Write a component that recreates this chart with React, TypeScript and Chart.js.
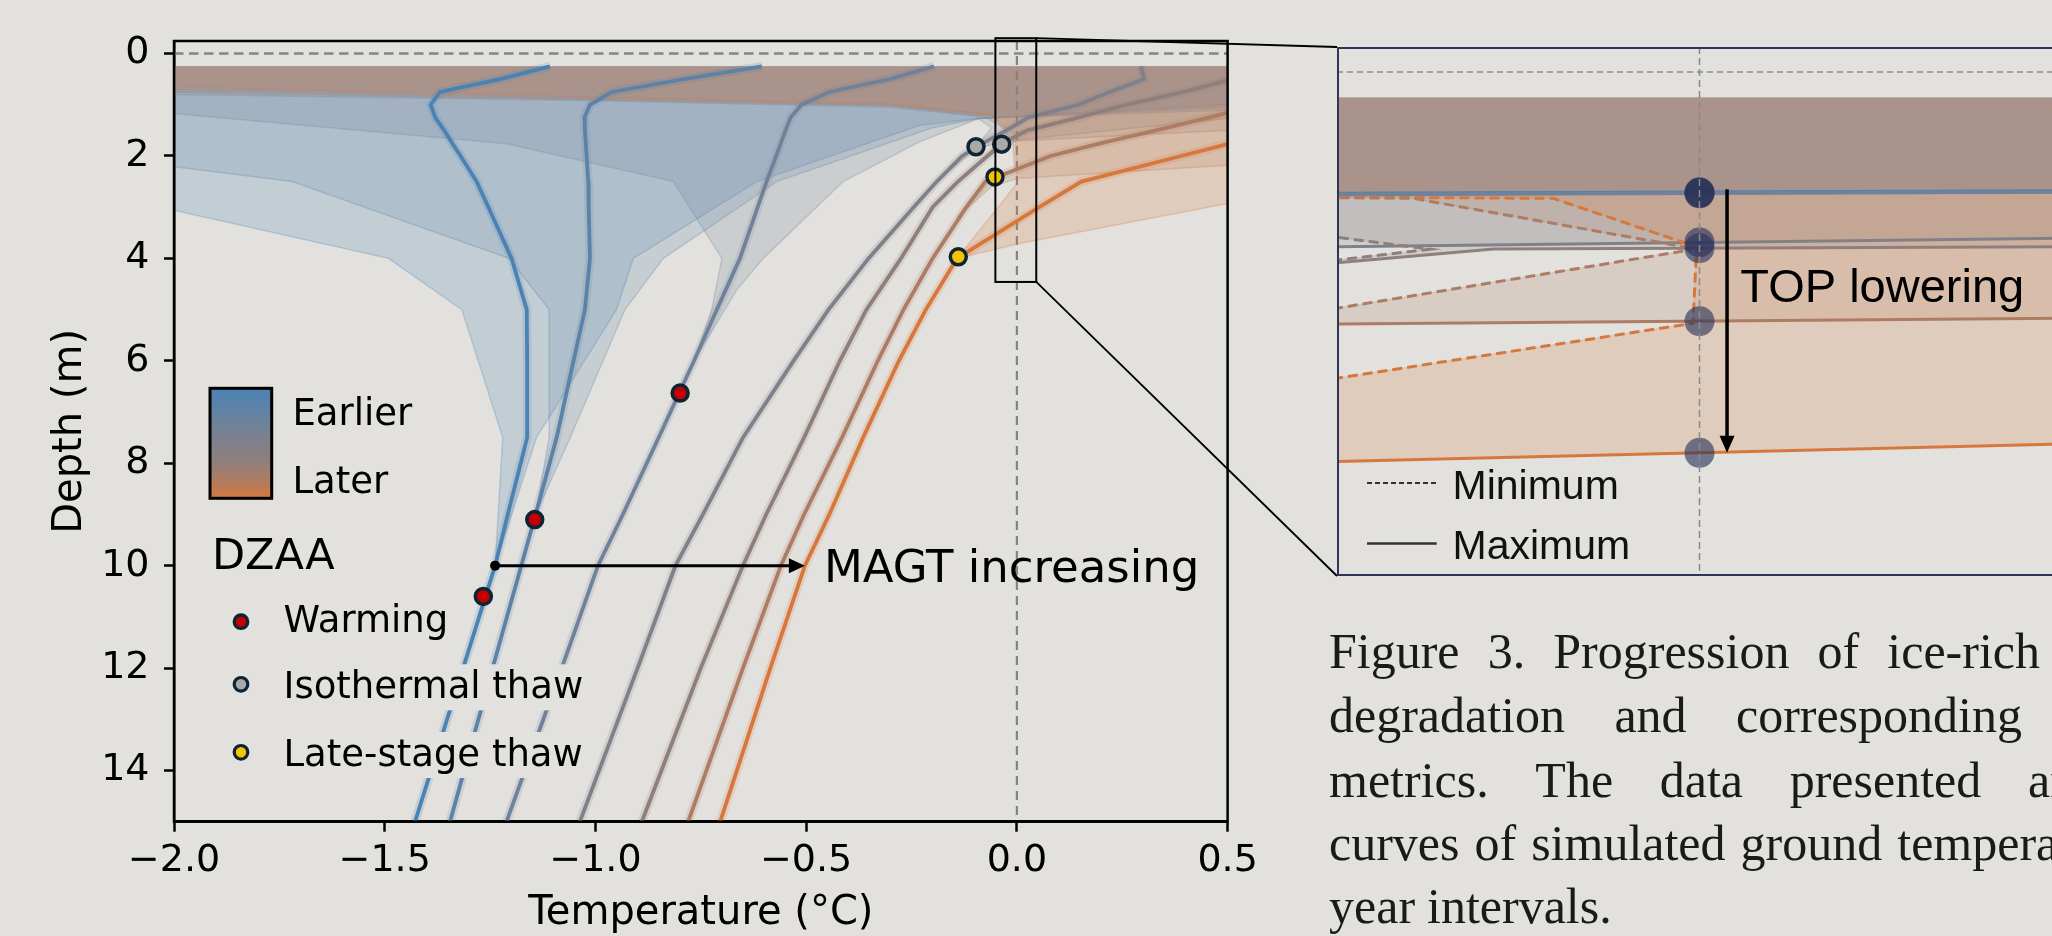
import React, { useEffect, useRef } from "react";
import { Chart, registerables } from "chart.js";

Chart.register(...registerables);

const BG = "#e2e1dd";
const SANS = "'DejaVu Sans', sans-serif";
const ARIAL = "'Liberation Sans', Arial, sans-serif";
const SERIF = "'Liberation Serif', 'Times New Roman', serif";

// ---------------- main panel data ----------------
const xTicks = [-2.0, -1.5, -1.0, -0.5, 0.0, 0.5];
const yTicks = [0, 2, 4, 6, 8, 10, 12, 14];

// depth nodes (m)
const depths = [0.25, 0.5, 0.75, 1.0, 1.25, 1.5, 1.75, 2.0, 2.5, 3.0, 4.0, 5.0, 6.0, 7.5, 9.0, 10.0, 12.0, 15.0];

// mean ground temperature profiles (°C), earlier -> later
const year1 = [-1.108, -1.226, -1.369, -1.391, -1.38, -1.359, -1.34, -1.32, -1.282, -1.254, -1.199, -1.163, -1.162, -1.162, -1.208, -1.238, -1.314, -1.428];
const year2 = [-0.605, -0.79, -0.961, -1.013, -1.026, -1.025, -1.023, -1.021, -1.017, -1.016, -1.013, -1.025, -1.052, -1.092, -1.142, -1.176, -1.244, -1.345];
const year3 = [-0.197, -0.301, -0.446, -0.511, -0.537, -0.549, -0.56, -0.571, -0.594, -0.615, -0.657, -0.712, -0.766, -0.85, -0.935, -0.994, -1.08, -1.211];
const year4 = [0.294, 0.302, 0.22, 0.146, 0.027, -0.025, -0.08, -0.13, -0.19, -0.245, -0.352, -0.447, -0.53, -0.65, -0.745, -0.81, -0.9, -1.037];
const year5 = [0.63, 0.51, 0.396, 0.26, 0.145, 0.025, -0.033, -0.07, -0.14, -0.2, -0.275, -0.357, -0.42, -0.505, -0.595, -0.65, -0.75, -0.89];
const year6 = [0.95, 0.82, 0.7, 0.57, 0.455, 0.33, 0.2, 0.08, -0.075, -0.12, -0.2, -0.269, -0.33, -0.415, -0.505, -0.56, -0.65, -0.78];
const year7 = [1.21, 1.09, 0.97, 0.85, 0.74, 0.625, 0.508, 0.39, 0.153, 0.053, -0.142, -0.216, -0.28, -0.365, -0.445, -0.503, -0.585, -0.704];

const yearColors = ["#4a82b4", "#5c82a8", "#70829a", "#80808a", "#8f7f7c", "#ad7c62", "#d6783e"];

// annual minimum envelope (T, depth), top -> bottom
const env1MinT = [-6, -2.0, -1.491, -1.317, -1.22, -1.238];
const env1MinD = [0.25, 3.06, 4.0, 5.0, 7.5, 10.0];
const env2MinT = [-6, -2.0, -1.72, -1.205, -1.11, -1.11, -1.142];
const env2MinD = [0.25, 2.21, 2.5, 4.0, 5.0, 7.5, 9.0];
const env3MinT = [-6, -2.0, -1.21, -0.815, -0.7, -0.724, -0.766];
const env3MinD = [0.25, 1.17, 1.76, 2.5, 4.0, 5.0, 6.0];
const env4MinT = [-6, -2.0, -1.0, -0.3, -0.1, -0.06, -0.097, -0.19];
const env4MinD = [0.25, 0.8, 0.92, 1.05, 1.22, 1.45, 1.82, 2.5];
const env5MinT = [-6, -2.0, -1.0, -0.3, -0.08, -0.02, -0.045, -0.11];
const env5MinD = [0.25, 0.75, 0.9, 1.02, 1.22, 1.5, 1.77, 2.28];
const env6MinT = [-6, -2.0, -1.0, -0.3, -0.06, -0.01, -0.005, -0.06, -0.142];
const env6MinD = [0.25, 0.7, 0.88, 1.0, 1.2, 1.7, 2.3, 2.45, 3.19];
const env7MinT = [-6, -2.0, -1.0, -0.3, -0.06, -0.003, 0.0, -0.139, -0.216];
const env7MinD = [0.25, 0.65, 0.85, 0.98, 1.2, 1.6, 2.54, 3.97, 5.0];

// annual maximum envelope (T, depth), top -> bottom
const env1MaxT = [6, 0.5, -0.09, -0.23, -0.617, -0.91, -0.95, -1.14, -1.238];
const env1MaxD = [0.25, 1.0, 1.27, 1.4, 2.5, 4.0, 5.0, 7.5, 10.0];
const env2MaxT = [6, 0.5, -0.09, -0.2, -0.57, -0.839, -0.93, -1.06, -1.142];
const env2MaxD = [0.25, 1.05, 1.27, 1.45, 2.5, 4.0, 5.0, 7.5, 9.0];
const env3MaxT = [6, 0.5, -0.09, -0.23, -0.412, -0.602, -0.665, -0.766];
const env3MaxD = [0.25, 1.1, 1.27, 1.72, 2.5, 4.0, 4.62, 6.0];
const env4MaxT = [6, 0.5, 0.0, -0.097, -0.19];
const env4MaxD = [0.25, 1.27, 1.69, 1.85, 2.5];
const env5MaxT = [6, 0.5, 0.0, -0.03, -0.11];
const env5MaxD = [0.25, 1.5, 1.71, 1.79, 2.28];
const env6MaxT = [6, 0.5, 0.0, -0.06, -0.142];
const env6MaxD = [0.25, 2.18, 2.44, 2.6, 3.19];
const env7MaxT = [6, 0.5, 0.0, -0.139, -0.216];
const env7MaxD = [0.25, 2.93, 3.72, 4.0, 5.0];

// DZAA markers
const warmingT = [-1.266, -1.144, -0.799];
const warmingD = [10.6, 9.1, 6.63];
const isoT = [-0.097, -0.036];
const isoD = [1.82, 1.77];
const lateT = [-0.052, -0.139];
const lateD = [2.41, 3.97];

const magtDepth = 10;

// zoom box on the main panel
const boxT = [-0.051, 0.046];
const boxD = [-0.3, 4.46];

// ---------------- inset data ----------------
const insetXlim = [-0.05, 0.05];
const insetYlim = [-0.244, 4.922];

// maximum (solid) lines
const inMax1T = [-0.06, 0.06], inMax1D = [1.19, 1.16];
const inMax2T = [-0.06, 0.06], inMax2D = [1.195, 1.165];
const inMax3T = [-0.06, 0.06], inMax3D = [1.2, 1.17];
const inMax4T = [-0.06, 0.06], inMax4D = [1.714, 1.615];
const inMax5T = [-0.06, -0.0284, 0.06], inMax5D = [1.926, 1.729, 1.704];
const inMax6T = [-0.06, 0.06], inMax6D = [2.467, 2.4];
const inMax7T = [-0.06, 0.06], inMax7D = [3.822, 3.616];

// minimum (dashed) lines
const inMin5T = [-0.06, -0.0372, -0.06], inMin5D = [1.523, 1.731, 1.919];
const inMin6T = [-0.06, -0.0395, -0.0022, -0.0015, -0.06], inMin6D = [1.22, 1.234, 1.706, 1.74, 2.424];
const inMin7T = [-0.06, -0.0202, -0.002, -0.0004, -0.0009, -0.06], inMin7D = [1.218, 1.234, 1.67, 1.72, 2.454, 3.1];

// envelope regions inside the inset
const inEnv1T = [-0.06, -0.065, -0.06, 0.06, 0.06], inEnv1D = [0.25, 0.7, 1.19, 1.16, 0.25];
const inEnv2T = [-0.06, -0.065, -0.06, 0.06, 0.06], inEnv2D = [0.25, 0.7, 1.195, 1.165, 0.25];
const inEnv3T = [-0.06, -0.065, -0.06, 0.06, 0.06], inEnv3D = [0.25, 0.7, 1.2, 1.17, 0.25];
const inEnv4T = [-0.06, -0.065, -0.06, 0.06, 0.06], inEnv4D = [0.25, 0.7, 1.714, 1.615, 0.25];
const inEnv5T = [-0.06, -0.065, -0.06, -0.0372, -0.06, -0.06, -0.0284, 0.06, 0.06];
const inEnv5D = [0.25, 0.7, 1.523, 1.731, 1.919, 1.926, 1.729, 1.704, 0.25];
const inEnv6T = [-0.06, -0.065, -0.06, -0.0395, -0.0022, -0.0015, -0.06, -0.06, 0.06, 0.06];
const inEnv6D = [0.25, 0.7, 1.22, 1.234, 1.706, 1.74, 2.424, 2.467, 2.4, 0.25];
const inEnv7T = [-0.06, -0.065, -0.06, -0.0202, -0.002, -0.0004, -0.0009, -0.06, -0.06, 0.06, 0.06];
const inEnv7D = [0.25, 0.7, 1.218, 1.234, 1.67, 1.72, 2.454, 3.1, 3.822, 3.616, 0.25];

const topArrowT = 0.0038;

// caption
const captionLines = [
  { words: ["Figure", "3.", "Progression", "of", "ice-rich"], width: 711, justify: true },
  { words: ["degradation", "and", "corresponding"], width: 693, justify: true },
  { words: ["metrics.", "The", "data", "presented", "are"], width: 760, justify: true },
  { words: ["curves", "of", "simulated", "ground", "temperature"], width: 807, justify: true },
  { words: ["year", "intervals."], width: 0, justify: false },
];
const captionBaselines = [668.3, 731.7, 796.7, 860, 923.3];

// ---------------- helpers ----------------
const years = [year1, year2, year3, year4, year5, year6, year7];
const envMins = [[env1MinT, env1MinD], [env2MinT, env2MinD], [env3MinT, env3MinD], [env4MinT, env4MinD], [env5MinT, env5MinD], [env6MinT, env6MinD], [env7MinT, env7MinD]];
const envMaxs = [[env1MaxT, env1MaxD], [env2MaxT, env2MaxD], [env3MaxT, env3MaxD], [env4MaxT, env4MaxD], [env5MaxT, env5MaxD], [env6MaxT, env6MaxD], [env7MaxT, env7MaxD]];
const inMaxs = [[inMax1T, inMax1D], [inMax2T, inMax2D], [inMax3T, inMax3D], [inMax4T, inMax4D], [inMax5T, inMax5D], [inMax6T, inMax6D], [inMax7T, inMax7D]];
const inMins: [number[], number[], number][] = [[inMin5T, inMin5D, 4], [inMin6T, inMin6D, 5], [inMin7T, inMin7D, 6]];
const inEnvs = [[inEnv1T, inEnv1D], [inEnv2T, inEnv2D], [inEnv3T, inEnv3D], [inEnv4T, inEnv4D], [inEnv5T, inEnv5D], [inEnv6T, inEnv6D], [inEnv7T, inEnv7D]];

const pts = (T: number[], D: number[]) => T.map((t, i) => ({ x: t, y: D[i] }));

function rgba(hex: string, a: number) {
  const n = parseInt(hex.slice(1), 16);
  return `rgba(${(n >> 16) & 255},${(n >> 8) & 255},${n & 255},${a})`;
}

function interp(xs: number[], ys: number[], x: number) {
  for (let i = 0; i < xs.length - 1; i++) {
    const a = xs[i], b = xs[i + 1];
    if ((x >= a && x <= b) || (x <= a && x >= b)) {
      const t = b === a ? 0 : (x - a) / (b - a);
      return ys[i] + t * (ys[i + 1] - ys[i]);
    }
  }
  return NaN;
}

const fmtX = (v: number) => (v < 0 ? "\u2212" + Math.abs(v).toFixed(1) : v.toFixed(1));

function drawDot(ctx: CanvasRenderingContext2D, x: number, y: number, r: number, fill: string, lw: number) {
  ctx.beginPath();
  ctx.arc(x, y, r, 0, Math.PI * 2);
  ctx.fillStyle = fill;
  ctx.fill();
  ctx.lineWidth = lw;
  ctx.strokeStyle = "#0c2433";
  ctx.stroke();
}

// ---------------- main chart ----------------
const mainOverlay = {
  id: "mainOverlay",
  beforeDatasetsDraw(chart: any) {
    const { ctx, chartArea: a, scales } = chart;
    const x = scales.x, y = scales.y;
    ctx.save();
    ctx.beginPath();
    ctx.rect(a.left, a.top, a.right - a.left, a.bottom - a.top);
    ctx.clip();
    ctx.strokeStyle = "#858585";
    ctx.lineWidth = 2.6;
    ctx.setLineDash([9.5, 5.5]);
    const y0 = y.getPixelForValue(0);
    ctx.beginPath();
    ctx.moveTo(a.left, y0);
    ctx.lineTo(a.right, y0);
    ctx.stroke();
    ctx.lineWidth = 2.2;
    ctx.setLineDash([9, 6]);
    const x0 = x.getPixelForValue(0);
    ctx.beginPath();
    ctx.moveTo(x0, a.top);
    ctx.lineTo(x0, a.bottom);
    ctx.stroke();
    ctx.restore();
  },
  afterDraw(chart: any) {
    const { ctx, chartArea: a, scales } = chart;
    const x = scales.x, y = scales.y;
    ctx.save();
    // frame
    ctx.strokeStyle = "#000";
    ctx.lineWidth = 2.5;
    ctx.strokeRect(a.left, a.top, a.right - a.left, a.bottom - a.top);

    // axis titles
    ctx.fillStyle = "#000";
    ctx.font = `40px ${SANS}`;
    ctx.textAlign = "center";
    ctx.textBaseline = "alphabetic";
    ctx.fillText("Temperature (\u00B0C)", (a.left + a.right) / 2, 924);
    ctx.save();
    ctx.translate(81, (a.top + a.bottom) / 2);
    ctx.rotate(-Math.PI / 2);
    ctx.fillText("Depth (m)", 0, 0);
    ctx.restore();

    // MAGT arrow
    const ay = y.getPixelForValue(magtDepth);
    const ax0 = x.getPixelForValue(interp(depths, year1, magtDepth));
    const ax1 = x.getPixelForValue(interp(depths, year7, magtDepth));
    ctx.strokeStyle = "#000";
    ctx.fillStyle = "#000";
    ctx.lineWidth = 3;
    ctx.beginPath();
    ctx.moveTo(ax0, ay);
    ctx.lineTo(ax1 - 14, ay);
    ctx.stroke();
    ctx.beginPath();
    ctx.moveTo(ax1, ay);
    ctx.lineTo(ax1 - 16, ay - 7.5);
    ctx.lineTo(ax1 - 16, ay + 7.5);
    ctx.closePath();
    ctx.fill();
    ctx.beginPath();
    ctx.arc(ax0, ay, 5, 0, Math.PI * 2);
    ctx.fill();
    ctx.font = `45px ${SANS}`;
    ctx.textAlign = "left";
    ctx.fillText("MAGT increasing", ax1 + 19, ay + 16.4);

    // zoom box + connectors
    const bx0 = x.getPixelForValue(boxT[0]), bx1 = x.getPixelForValue(boxT[1]);
    const by0 = y.getPixelForValue(boxD[0]), by1 = y.getPixelForValue(boxD[1]);
    ctx.lineWidth = 2;
    ctx.strokeRect(bx0, by0, bx1 - bx0, by1 - by0);
    ctx.lineWidth = 1.8;
    ctx.beginPath();
    ctx.moveTo(bx1, by0);
    ctx.lineTo(1337, 47);
    ctx.moveTo(bx1, by1);
    ctx.lineTo(1337, 576);
    ctx.stroke();

    // legend: colour bar
    const cb = { x: 210, y: 388.3, w: 61.7, h: 110 };
    const g = ctx.createLinearGradient(0, cb.y, 0, cb.y + cb.h);
    yearColors.forEach((c, i) => g.addColorStop(i / (yearColors.length - 1), c));
    ctx.fillStyle = g;
    ctx.fillRect(cb.x, cb.y, cb.w, cb.h);
    ctx.lineWidth = 3;
    ctx.strokeStyle = "#000";
    ctx.strokeRect(cb.x, cb.y, cb.w, cb.h);
    ctx.fillStyle = "#000";
    ctx.font = `37px ${SANS}`;
    ctx.fillText("Earlier", 292.4, 425);
    ctx.fillText("Later", 292.4, 492.7);
    ctx.font = `43px ${SANS}`;
    ctx.fillText("DZAA", 212, 569.3);

    const entries: [string, string, number, number][] = [
      ["Warming", "#c40000", 621.7, 631.7],
      ["Isothermal thaw", "#a9a9a9", 684.3, 698.3],
      ["Late-stage thaw", "#f5c400", 752.3, 766],
    ];
    ctx.font = `37px ${SANS}`;
    for (const [label, col, my, base] of entries) {
      const w = ctx.measureText(label).width;
      ctx.fillStyle = BG;
      ctx.fillRect(281, base - 34, w + 6, 46);
      ctx.fillStyle = "#000";
      ctx.fillText(label, 283.5, base);
      drawDot(ctx, 241, my, 6.8, col, 3.2);
    }
    ctx.restore();
  },
};

function mainConfig(): any {
  const datasets: any[] = [];
  years.forEach((yr, i) => {
    const [mnT, mnD] = envMins[i];
    const [mxT, mxD] = envMaxs[i];
    datasets.push({
      data: pts(mnT, mnD).concat(pts(mxT, mxD).reverse()),
      fill: "shape",
      backgroundColor: rgba(yearColors[i], 0.2),
      borderColor: rgba(yearColors[i], 0.28),
      borderWidth: 1.5,
      pointRadius: 0,
      order: 40 - i,
    });
  });
  // soft halo under each profile
  years.forEach((yr, i) => {
    datasets.push({
      data: pts(yr, depths),
      borderColor: rgba(yearColors[i], 0.18),
      borderWidth: 9,
      pointRadius: 0,
      fill: false,
      order: 25,
    });
  });
  years.forEach((yr, i) => {
    datasets.push({
      data: pts(yr, depths),
      borderColor: yearColors[i],
      borderWidth: 3.8,
      pointRadius: 0,
      fill: false,
      order: 20,
    });
  });
  const markerSets: [number[], number[], string][] = [
    [warmingT, warmingD, "#c40000"],
    [isoT, isoD, "#a9a9a9"],
    [lateT, lateD, "#f5c400"],
  ];
  markerSets.forEach(([T, D, col]) => {
    datasets.push({
      data: pts(T, D),
      showLine: false,
      pointRadius: 8,
      pointBorderWidth: 3.5,
      pointBackgroundColor: col,
      pointBorderColor: "#0c2433",
      order: 0,
    });
  });

  return {
    type: "line",
    data: { datasets },
    options: {
      responsive: false,
      animation: false,
      devicePixelRatio: 1,
      events: [],
      layout: { autoPadding: false, padding: { left: 0, top: 41, right: 2052 - 1227.6, bottom: 0 } },
      plugins: { legend: { display: false }, tooltip: { enabled: false } },
      scales: {
        x: {
          type: "linear",
          min: -2,
          max: 0.5,
          afterBuildTicks: (s: any) => {
            s.ticks = xTicks.map((v) => ({ value: v }));
          },
          afterFit: (s: any) => {
            s.height = 936 - 821.7;
          },
          ticks: {
            font: { size: 38, family: SANS },
            color: "#000",
            padding: 7,
            autoSkip: false,
            maxRotation: 0,
            callback: (v: any) => fmtX(Number(v)),
          },
          grid: { display: true, drawOnChartArea: false, drawTicks: true, tickLength: 10, tickWidth: 2.5, tickColor: "#000" },
          border: { display: true, color: "#000", width: 2.5 },
        },
        y: {
          type: "linear",
          min: -0.245,
          max: 15,
          reverse: true,
          afterBuildTicks: (s: any) => {
            s.ticks = yTicks.map((v) => ({ value: v }));
          },
          afterFit: (s: any) => {
            s.width = 174;
          },
          ticks: {
            font: { size: 38, family: SANS },
            color: "#000",
            padding: 14.5,
            autoSkip: false,
            callback: (v: any) => String(v),
          },
          grid: { display: true, drawOnChartArea: false, drawTicks: true, tickLength: 10, tickWidth: 2.5, tickColor: "#000" },
          border: { display: true, color: "#000", width: 2.5 },
        },
      },
    },
    plugins: [mainOverlay],
  };
}

// ---------------- inset chart ----------------
const insetOverlay = {
  id: "insetOverlay",
  beforeDatasetsDraw(chart: any) {
    const { ctx, chartArea: a, scales } = chart;
    const y = scales.y;
    ctx.save();
    ctx.strokeStyle = "#8a8a8a";
    ctx.lineWidth = 1.5;
    ctx.setLineDash([6, 4]);
    const y0 = y.getPixelForValue(0);
    ctx.beginPath();
    ctx.moveTo(a.left, y0);
    ctx.lineTo(a.right, y0);
    ctx.stroke();
    ctx.restore();
  },
  afterDatasetsDraw(chart: any) {
    const { ctx, chartArea: a, scales } = chart;
    const x = scales.x;
    ctx.save();
    ctx.strokeStyle = "#8a8a8a";
    ctx.lineWidth = 1.5;
    ctx.setLineDash([7, 4]);
    const x0 = x.getPixelForValue(0);
    ctx.beginPath();
    ctx.moveTo(x0, a.top);
    ctx.lineTo(x0, a.bottom);
    ctx.stroke();
    ctx.restore();
  },
  afterDraw(chart: any) {
    const { ctx, chartArea: a, scales } = chart;
    const x = scales.x, y = scales.y;
    ctx.save();
    // TOP lowering arrow
    const d0 = interp(inMax1T, inMax1D, 0);
    const d1 = interp(inMax7T, inMax7D, 0);
    const ax = x.getPixelForValue(topArrowT);
    const ay0 = y.getPixelForValue(d0) - 3;
    const ay1 = y.getPixelForValue(d1);
    ctx.strokeStyle = "#000";
    ctx.fillStyle = "#000";
    ctx.lineWidth = 3.5;
    ctx.beginPath();
    ctx.moveTo(ax, ay0);
    ctx.lineTo(ax, ay1 - 14);
    ctx.stroke();
    ctx.beginPath();
    ctx.moveTo(ax, ay1);
    ctx.lineTo(ax - 7.5, ay1 - 17);
    ctx.lineTo(ax + 7.5, ay1 - 17);
    ctx.closePath();
    ctx.fill();
    ctx.font = `47px ${ARIAL}`;
    ctx.textAlign = "left";
    ctx.textBaseline = "alphabetic";
    ctx.fillText("TOP lowering", 403.3, 254.6);

    // legend
    ctx.strokeStyle = "#333";
    ctx.lineWidth = 2;
    ctx.setLineDash([5, 3]);
    ctx.beginPath();
    ctx.moveTo(30, 436);
    ctx.lineTo(99.7, 436);
    ctx.stroke();
    ctx.setLineDash([]);
    ctx.lineWidth = 2.5;
    ctx.beginPath();
    ctx.moveTo(30, 496.4);
    ctx.lineTo(99.7, 496.4);
    ctx.stroke();
    ctx.fillStyle = "#111";
    ctx.font = `41px ${ARIAL}`;
    ctx.fillText("Minimum", 115.5, 452.4);
    ctx.fillText("Maximum", 115.5, 511.7);

    // frame
    ctx.strokeStyle = "#2e3555";
    ctx.lineWidth = 2;
    ctx.strokeRect(a.left + 1, a.top + 1, a.right - a.left + 10, a.bottom - a.top - 2);
    ctx.restore();
  },
};

function insetConfig(): any {
  const datasets: any[] = [];
  inEnvs.forEach(([T, D], i) => {
    datasets.push({
      data: pts(T, D),
      fill: "shape",
      backgroundColor: rgba(yearColors[i], 0.2),
      borderColor: rgba(yearColors[i], 0.25),
      borderWidth: 1,
      pointRadius: 0,
      order: 40 - i,
    });
  });
  inMaxs.forEach(([T, D], i) => {
    datasets.push({
      data: pts(T, D),
      borderColor: yearColors[i],
      borderWidth: i < 3 ? 3.5 : 3,
      pointRadius: 0,
      fill: false,
      order: 20 - i,
    });
  });
  inMins.forEach(([T, D, ci]) => {
    datasets.push({
      data: pts(T, D),
      borderColor: yearColors[ci],
      borderWidth: 3,
      borderDash: [10, 5],
      pointRadius: 0,
      fill: false,
      order: 10,
    });
  });
  // TOP (max curve crosses 0 °C)
  const topD = inMaxs.map(([T, D]) => interp(T, D, 0));
  datasets.push({
    data: topD.map((d) => ({ x: 0, y: d })),
    showLine: false,
    pointRadius: 15,
    pointBorderWidth: 0,
    pointBackgroundColor: "rgba(40,50,90,0.62)",
    pointBorderColor: "rgba(0,0,0,0)",
    order: 0,
  });
  return {
    type: "line",
    data: { datasets },
    options: {
      responsive: false,
      animation: false,
      devicePixelRatio: 1,
      events: [],
      layout: { autoPadding: false, padding: 0 },
      plugins: { legend: { display: false }, tooltip: { enabled: false } },
      scales: {
        x: { type: "linear", min: insetXlim[0], max: insetXlim[1], display: false },
        y: { type: "linear", min: insetYlim[0], max: insetYlim[1], reverse: true, display: false },
      },
    },
    plugins: [insetOverlay],
  };
}

export default function App() {
  const mainRef = useRef<HTMLCanvasElement>(null);
  const insetRef = useRef<HTMLCanvasElement>(null);
  useEffect(() => {
    document.body.style.margin = "0";
    document.body.style.background = BG;
    const main = new Chart(mainRef.current as HTMLCanvasElement, mainConfig());
    const inset = new Chart(insetRef.current as HTMLCanvasElement, insetConfig());
    return () => {
      main.destroy();
      inset.destroy();
    };
  }, []);

  return (
    <div style={{ position: "fixed", left: 0, top: 0, width: 2052, height: 936, overflow: "hidden", background: BG }}>
      <canvas ref={mainRef} width={2052} height={936} style={{ position: "absolute", left: 0, top: 0, width: 2052, height: 936 }} />
      <canvas ref={insetRef} width={725} height={529} style={{ position: "absolute", left: 1337, top: 47, width: 725, height: 529 }} />
      {captionLines.map((ln, i) => (
        <div
          key={i}
          style={{
            position: "absolute",
            left: 1329,
            top: captionBaselines[i] - 41.9,
            width: ln.justify ? ln.width : undefined,
            display: "flex",
            justifyContent: ln.justify ? "space-between" : "flex-start",
            gap: ln.justify ? 0 : 12,
            whiteSpace: "nowrap",
            fontFamily: SERIF,
            fontSize: 50,
            lineHeight: "50px",
            color: "#1a1a1a",
          }}
        >
          {ln.words.map((w, j) => (
            <span key={j}>{w}</span>
          ))}
        </div>
      ))}
    </div>
  );
}
